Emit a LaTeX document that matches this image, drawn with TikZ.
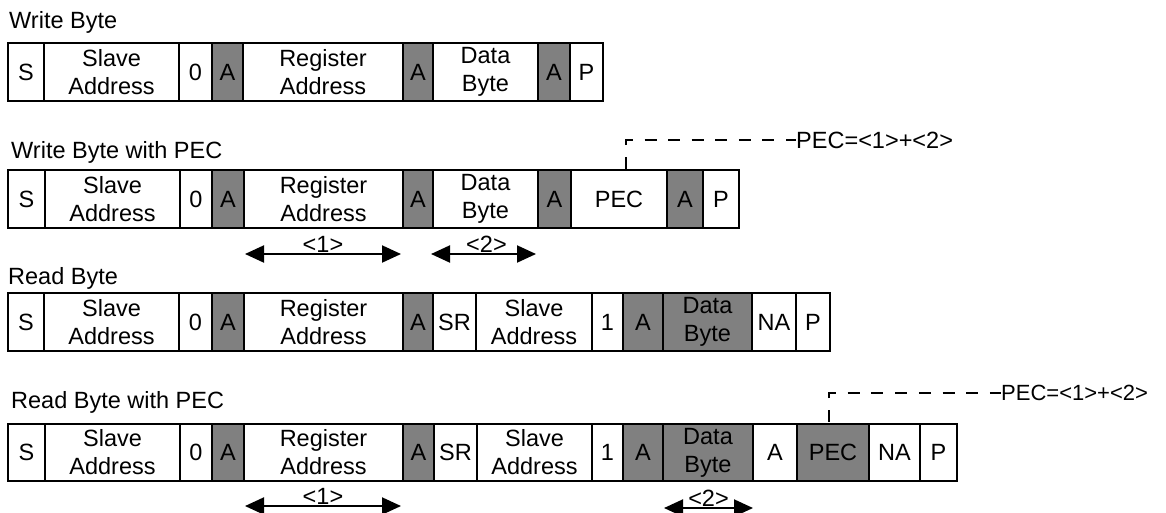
\documentclass[tikz,border=0pt]{standalone}
\usepackage{fontspec}
\setmainfont{Liberation Sans}
\usetikzlibrary{arrows.meta}
\definecolor{cg}{RGB}{128,128,128}
\newcommand\cellrow[4]{%
  \foreach \xa/\xb/\txt/\fc [count=\i] in {#4} {
    \node[cell, fill=\fc, minimum width={\xb-\xa}, minimum height={#3-#2}]
      (#1c\i) at ({(\xa+\xb)/2},{(#2+#3)/2}) {\txt};
  }}
\begin{document}
\begin{tikzpicture}[x=1pt,y=-1pt,
  cell/.style={draw=black, line width=2pt, inner sep=0pt, align=center,
    font=\fontsize{23.5}{28}\selectfont},
  title/.style={anchor=base west, inner sep=0pt, font=\fontsize{23.5}{28}\selectfont},
  span/.style={{Triangle[length=19pt,width=17pt]}-{Triangle[length=19pt,width=17pt]}, line width=2pt},
  lbl/.style={anchor=base, inner sep=0pt, font=\fontsize{23.5}{28}\selectfont},
  pecline/.style={line width=2pt},
  note/.style={anchor=west, inner sep=0pt, font=\fontsize{23.5}{28}\selectfont}]
\useasboundingbox (0,0) rectangle (1166,512);

% titles
\node[title] (t1) at (9,28) {Write Byte};
\node[title] (t2) at (11,158) {Write Byte with PEC};
\node[title] (t3) at (8,284) {Read Byte};
\node[title] (t4) at (11,408) {Read Byte with PEC};

% row 1: Write Byte
\cellrow{a}{43}{101}{8/44/S/white, 44/179/Slave\\Address/white, 179/212/0/white,
  212/243/A/cg, 243/403/Register\\Address/white, 403/433/A/cg,
  433/538/Data\\Byte/white, 538/570/A/cg, 570/603/P/white}

% row 2: Write Byte with PEC
\cellrow{b}{170}{228}{8/45/S/white, 45/180/Slave\\Address/white, 180/212/0/white,
  212/244/A/cg, 244/403/Register\\Address/white, 403/433/A/cg,
  433/538/Data\\Byte/white, 538/571/A/cg, 571/667/PEC/white,
  667/703/A/cg, 703/739/P/white}

% row 3: Read Byte
\cellrow{c}{293}{351}{8/44/S/white, 44/179/Slave\\Address/white, 179/212/0/white,
  212/244/A/cg, 244/403/Register\\Address/white, 403/433/A/cg,
  433/476/SR/white, 476/592/Slave\\Address/white, 592/623/1/white,
  623/663/A/cg, 663/752/Data\\Byte/cg, 752/796/NA/white, 796/830/P/white}

% row 4: Read Byte with PEC
\cellrow{d}{424}{481}{8/45/S/white, 45/180/Slave\\Address/white, 180/212/0/white,
  212/244/A/cg, 244/403/Register\\Address/white, 403/434/A/cg,
  434/477/SR/white, 477/592/Slave\\Address/white, 592/623/1/white,
  623/663/A/cg, 663/753/Data\\Byte/cg, 753/797/A/white,
  797/869/PEC/cg, 869/920/NA/white, 920/957/P/white}

% spans row 2
\draw[span] ([xshift=2pt,yshift=-25pt]bc5.south west) -- ([xshift=-3pt,yshift=-25pt]bc5.south east)
  node[midway, lbl, yshift=2pt] (l21) {<1>};
\draw[span] ([xshift=-1pt,yshift=-25pt]bc7.south west) -- ([xshift=-3pt,yshift=-25pt]bc7.south east)
  node[midway, lbl, yshift=2pt, xshift=3pt] (l22) {<2>};

% spans row 4
\draw[span] ([xshift=2pt,yshift=-24pt]dc5.south west) -- ([xshift=-3pt,yshift=-24pt]dc5.south east)
  node[midway, lbl, yshift=2pt] (l41) {<1>};
\draw[span] ([xshift=2pt,yshift=-26pt]dc11.south west) -- ([xshift=-1pt,yshift=-26pt]dc11.south east)
  node[midway, lbl, yshift=2pt] (l42) {<2>};

% PEC notes
\node[note] (n2) at (796,140) {PEC=<1>+<2>};
\draw[pecline, dash pattern=on 12pt off 11.57pt, dash phase=23.14pt]
  ([xshift=7pt]bc9.north) |- (n2.west);
\node[note, font=\fontsize{22}{27}\selectfont] (n4) at (1001,393) {PEC=<1>+<2>};
\draw[pecline, dash pattern=on 12pt off 11.71pt, dash phase=22.43pt]
  ([xshift=-4pt]dc13.north) |- (n4.west);
\end{tikzpicture}
\end{document}
